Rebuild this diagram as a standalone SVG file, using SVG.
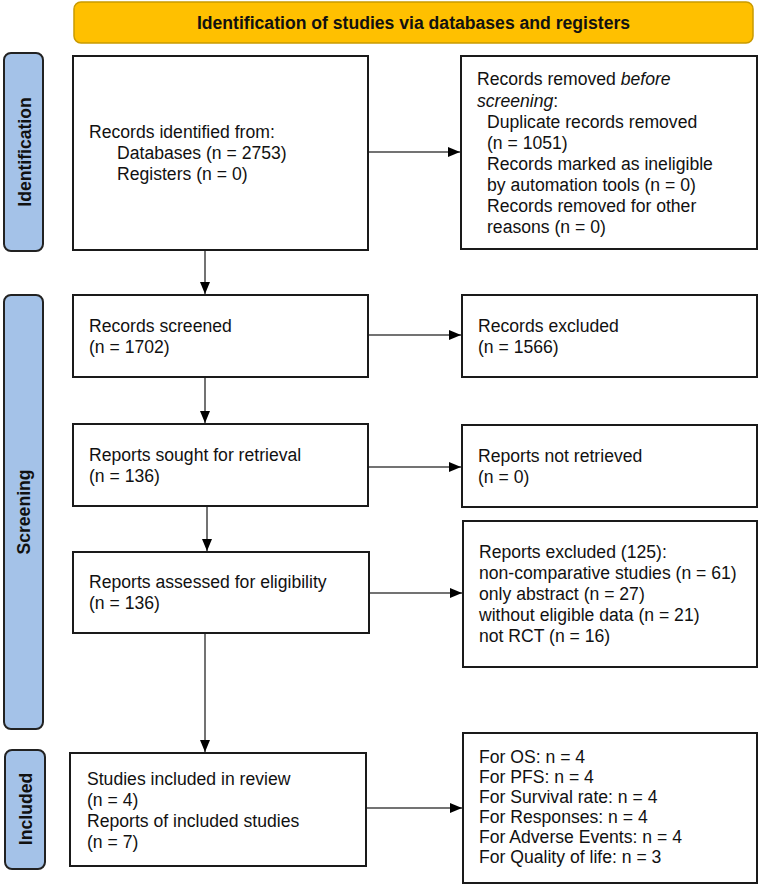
<svg xmlns="http://www.w3.org/2000/svg" width="760" height="885" viewBox="0 0 760 885">
<defs>
<style>
.box{fill:#fff;stroke:#1a1a1a;stroke-width:2}
.side{fill:#a4c2e8;stroke:#222;stroke-width:2}
.t{font-family:"Liberation Sans",Arial,sans-serif;font-size:17.6px;fill:#111}
.b{font-family:"Liberation Sans",Arial,sans-serif;font-size:17.6px;font-weight:bold;fill:#111}
.con{stroke:#444;stroke-width:1.5;fill:none;marker-end:url(#ah)}
</style>
<marker id="ah" markerUnits="userSpaceOnUse" markerWidth="13" markerHeight="11" refX="12" refY="5" orient="auto">
<path d="M0,0 L12,5 L0,10 z" fill="#000"/>
</marker>
</defs>
<rect width="760" height="885" fill="#fff"/>

<g id="header">
<rect x="74" y="2" width="679" height="41" rx="7" fill="#ffc000" stroke="#c99a00" stroke-width="1.5"/>
<text class="b" x="413.5" y="29" text-anchor="middle">Identification of studies via databases and registers</text>
</g>

<g id="lbl-identification">
<rect class="side" x="4" y="53" width="39" height="198" rx="7"/>
<text class="b" transform="translate(31,152) rotate(-90)" text-anchor="middle">Identification</text>
</g>
<g id="lbl-screening">
<rect class="side" x="4" y="295" width="39" height="434" rx="7"/>
<text class="b" transform="translate(30,512) rotate(-90)" text-anchor="middle">Screening</text>
</g>
<g id="lbl-included">
<rect class="side" x="5" y="750" width="40" height="119" rx="7"/>
<text class="b" transform="translate(32,809) rotate(-90)" text-anchor="middle">Included</text>
</g>

<g id="identified">
<rect class="box" x="73" y="56" width="295" height="194"/>
<text class="t" x="89" y="138">Records identified from:</text>
<text class="t" x="117" y="159">Databases (n = 2753)</text>
<text class="t" x="117" y="180">Registers (n = 0)</text>
</g>

<g id="removed">
<rect class="box" x="461" y="56" width="296" height="193"/>
<text class="t" x="477" y="85">Records removed <tspan font-style="italic">before</tspan></text>
<text class="t" x="477" y="107"><tspan font-style="italic">screening</tspan>:</text>
<text class="t" x="487" y="128">Duplicate records removed</text>
<text class="t" x="487" y="149">(n = 1051)</text>
<text class="t" x="487" y="170">Records marked as ineligible</text>
<text class="t" x="487" y="191">by automation tools (n = 0)</text>
<text class="t" x="487" y="212">Records removed for other</text>
<text class="t" x="487" y="233">reasons (n = 0)</text>
</g>

<g id="screened">
<rect class="box" x="73" y="295" width="295" height="82"/>
<text class="t" x="89" y="332">Records screened</text>
<text class="t" x="89" y="353">(n = 1702)</text>
</g>

<g id="excluded">
<rect class="box" x="462" y="295" width="295" height="82"/>
<text class="t" x="478" y="332">Records excluded</text>
<text class="t" x="478" y="353">(n = 1566)</text>
</g>

<g id="sought">
<rect class="box" x="73" y="424" width="295" height="82"/>
<text class="t" x="89" y="461">Reports sought for retrieval</text>
<text class="t" x="89" y="482">(n = 136)</text>
</g>

<g id="notretrieved">
<rect class="box" x="462" y="425" width="295" height="82"/>
<text class="t" x="478" y="462">Reports not retrieved</text>
<text class="t" x="478" y="483">(n = 0)</text>
</g>

<g id="assessed">
<rect class="box" x="73" y="552" width="296" height="81"/>
<text class="t" x="89" y="588">Reports assessed for eligibility</text>
<text class="t" x="89" y="609">(n = 136)</text>
</g>

<g id="reportsexcluded">
<rect class="box" x="463" y="521" width="294" height="146"/>
<text class="t" x="479" y="558">Reports excluded (125):</text>
<text class="t" x="479" y="579">non-comparative studies (n = 61)</text>
<text class="t" x="479" y="600">only abstract (n = 27)</text>
<text class="t" x="479" y="621">without eligible data (n = 21)</text>
<text class="t" x="479" y="642">not RCT (n = 16)</text>
</g>

<g id="included">
<rect class="box" x="70" y="753" width="296" height="113"/>
<text class="t" x="87" y="785">Studies included in review</text>
<text class="t" x="87" y="806">(n = 4)</text>
<text class="t" x="87" y="827">Reports of included studies</text>
<text class="t" x="87" y="848">(n = 7)</text>
</g>

<g id="outcomes">
<rect class="box" x="463" y="733" width="294" height="150"/>
<text class="t" x="479" y="763">For OS: n = 4</text>
<text class="t" x="479" y="783">For PFS: n = 4</text>
<text class="t" x="479" y="803">For Survival rate: n = 4</text>
<text class="t" x="479" y="823">For Responses: n = 4</text>
<text class="t" x="479" y="843">For Adverse Events: n = 4</text>
<text class="t" x="479" y="863">For Quality of life: n = 3</text>
</g>

<g id="connectors">
<line class="con" x1="369" y1="152" x2="460" y2="152"/>
<line class="con" x1="205" y1="251" x2="205" y2="294"/>
<line class="con" x1="369" y1="335" x2="461" y2="335"/>
<line class="con" x1="205" y1="378" x2="205" y2="423"/>
<line class="con" x1="369" y1="467" x2="461" y2="467"/>
<line class="con" x1="207" y1="507" x2="207" y2="551"/>
<line class="con" x1="370" y1="593" x2="462" y2="593"/>
<line class="con" x1="205" y1="634" x2="205" y2="752"/>
<line class="con" x1="367" y1="808" x2="462" y2="808"/>
</g>
</svg>
